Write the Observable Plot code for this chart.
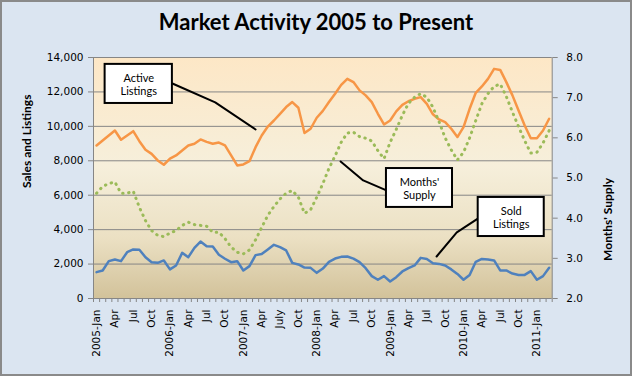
<!DOCTYPE html>
<html>
<head>
<meta charset="utf-8">
<script src="https://cdn.jsdelivr.net/npm/d3@7"></script>
<script src="https://cdn.jsdelivr.net/npm/@observablehq/plot@0.6"></script>
<style>
  html, body { margin: 0; padding: 0; background: #dbe5f1; }
  #wrap { position: relative; width: 632px; height: 376px; background: #dbe5f1; overflow: hidden; }
  #title { position: absolute; left: 0; top: 8px; width: 632px; text-align: center;
           font-family: Lato, "Open Sans", sans-serif; font-weight: bold; font-size: 22px; line-height: 28px; color: #000; }
  #border { position: absolute; left: 0; top: 0; width: 632px; height: 376px; box-sizing: border-box;
            border: 2px solid #8a8a8a; pointer-events: none; }
  #chart svg { position: absolute; left: 0; top: 0; }
</style>
</head>
<body>
<div id="wrap">
  <div id="chart"></div>
  <div id="title">Market Activity 2005 to Present</div>
  <div id="border"></div>
</div>
<script>
// ---- Data (monthly, 2005-Jan .. 2011-Mar) ----
const activeListings = [
  8890, 9180, 9470, 9760, 9220, 9470, 9720, 9140, 8640, 8400, 8020, 7770,
  8120, 8310, 8600, 8890, 8990, 9240, 9100, 8990, 9060, 8890, 8310, 7730,
  7790, 7980, 8790, 9470, 9990, 10340, 10730, 11120, 11410, 11080, 9610, 9860,
  10500, 10900, 11410, 11890, 12410, 12760, 12570, 12090, 11800, 11410, 10730, 10110,
  10340, 10870, 11250, 11460, 11600, 11700, 11310, 10700, 10400, 10250, 9860, 9380,
  9960, 11020, 11950, 12320, 12760, 13340, 13280, 12570, 11800, 10920, 10050, 9310,
  9310, 9760, 10440
];
const soldListings = [
  1530, 1630, 2170, 2270, 2170, 2690, 2850, 2830, 2400, 2110, 2070, 2210,
  1690, 1920, 2650, 2400, 2940, 3310, 3030, 3020, 2540, 2310, 2110, 2170,
  1630, 1880, 2520, 2580, 2850, 3120, 2980, 2790, 2070, 1980, 1800, 1780,
  1490, 1740, 2130, 2320, 2420, 2440, 2320, 2110, 1760, 1300, 1090, 1300,
  990, 1240, 1570, 1760, 1920, 2360, 2290, 2050, 2010, 1920, 1690, 1430,
  1090, 1370, 2130, 2300, 2270, 2210, 1630, 1630, 1450, 1370, 1370, 1590,
  1090, 1300, 1780
];
const monthsSupply = [
  4.62, 4.79, 4.86, 4.90, 4.62, 4.62, 4.67, 4.27, 3.94, 3.69, 3.57, 3.54,
  3.63, 3.69, 3.82, 3.90, 3.84, 3.82, 3.80, 3.65, 3.65, 3.49, 3.28, 3.15,
  3.11, 3.21, 3.46, 3.77, 4.07, 4.29, 4.48, 4.62, 4.69, 4.52, 4.12, 4.21,
  4.52, 4.86, 5.24, 5.55, 5.89, 6.12, 6.14, 6.03, 5.99, 5.92, 5.68, 5.48,
  5.89, 6.21, 6.56, 6.86, 7.01, 7.10, 7.01, 6.76, 6.40, 6.00, 5.70, 5.45,
  5.64, 6.00, 6.43, 6.85, 7.10, 7.28, 7.34, 7.03, 6.64, 6.28, 5.93, 5.62,
  5.64, 5.87, 6.18
];
const xTickLabels = [
  "2005-Jan", "Apr", "Jul", "Oct", "2006-Jan", "Apr", "Jul", "Oct",
  "2007-Jan", "Apr", "July", "Oct", "2008-Jan", "Apr", "Jul", "Oct",
  "2009-Jan", "Apr", "Jul", "Oct", "2010-Jan", "Apr", "Jul", "Oct", "2011-Jan"
];
const leftTicks = [0, 2000, 4000, 6000, 8000, 10000, 12000, 14000];
const rightTicks = [2.0, 3.0, 4.0, 5.0, 6.0, 7.0, 8.0];

// Callout annotations (x = month index, y = left-axis units)
const calloutNames = ["Active\nListings", "Months'\nSupply", "Sold\nListings"];
const calloutBoxX = [[1.4, 12.4], [47.4, 58.2], [62.4, 73.2]];
const calloutBoxY = [[11330, 13600], [5290, 7550], [3600, 5870]];
const calloutPathX = [[12.4, 19.4, 26.0], [39.9, 43.6, 47.4], [62.4, 58.9, 55.6]];
const calloutPathY = [[12490, 11390, 9820], [7960, 6860, 6280], [4650, 3840, 2440]];

// ---- Build ----
const leftMax = 14000, rMin = 2, rMax = 8;
const toLeft = v => (v - rMin) / (rMax - rMin) * leftMax;
const fromLeft = y => y / leftMax * (rMax - rMin) + rMin;
const nMonths = activeListings.length;
const rows = activeListings.map((a, i) => ({i, active: a, sold: soldListings[i], supply: toLeft(monthsSupply[i])}));
const labelPos = xTickLabels.map((_, k) => k * 3);
const boundaries = d3.range(nMonths + 1).map(k => k - 0.5);
const boxes = calloutNames.map((t, k) => ({
  t, x1: calloutBoxX[k][0], x2: calloutBoxX[k][1], y1: calloutBoxY[k][0], y2: calloutBoxY[k][1]
}));
const paths = calloutNames.flatMap((t, k) => calloutPathX[k].map((x, j) => ({k, x, y: calloutPathY[k][j]})));

const grid = "#868686";
const plot = Plot.plot({
  width: 632, height: 376,
  marginLeft: 93, marginRight: 80.3, marginTop: 57, marginBottom: 78,
  style: {background: "transparent", fontFamily: "'DejaVu Sans', sans-serif", fontSize: "10px", overflow: "visible"},
  x: {type: "linear", domain: [-0.5, nMonths - 0.5], axis: null},
  y: {domain: [0, leftMax], axis: null},
  marks: [
    Plot.frame({fill: "url(#plotBg)", stroke: "none"}),
    Plot.ruleY(leftTicks.filter(d => d > 0), {stroke: grid, strokeWidth: 1}),
    // left axis
    Plot.axisY({ticks: leftTicks, tickFormat: d3.format(","), tickSize: 5, tickPadding: 5,
      stroke: grid, fill: "black", fontSize: 10.5, label: null}),
    // right axis (months' supply)
    Plot.axisY({anchor: "right", ticks: rightTicks.map(toLeft), tickFormat: d => fromLeft(d).toFixed(1),
      tickSize: 5, tickPadding: 9, stroke: grid, fill: "black", fontSize: 10.5, label: null}),
    // x tick marks at category boundaries
    Plot.axisX({ticks: boundaries, tickFormat: () => "", tickSize: 4, stroke: grid, label: null}),
    // x labels
    Plot.text(labelPos, {x: d => d, text: d => xTickLabels[d / 3], frameAnchor: "bottom", rotate: -90,
      textAnchor: "end", lineAnchor: "middle", dy: 11, fontSize: 10.5, fill: "black"}),
    // axis lines
    Plot.ruleX([-0.5, nMonths - 0.5], {stroke: grid}),
    Plot.ruleY([0], {stroke: grid}),
    // series
    Plot.line(rows, {x: "i", y: "active", stroke: "#f79646", strokeWidth: 2.5}),
    Plot.line(rows, {x: "i", y: "supply", stroke: "#9bbb59", strokeWidth: 3,
      strokeDasharray: "0.5 5.6", strokeLinecap: "round"}),
    Plot.line(rows, {x: "i", y: "sold", stroke: "#4f81bd", strokeWidth: 2.5}),
    // callouts
    Plot.line(paths, {x: "x", y: "y", z: "k", stroke: "black", strokeWidth: 2}),
    Plot.rect(boxes, {x1: "x1", x2: "x2", y1: "y1", y2: "y2", fill: "white", stroke: "black", strokeWidth: 2}),
    Plot.text(boxes, {x: d => (d.x1 + d.x2) / 2, y: d => (d.y1 + d.y2) / 2, text: "t",
      fontFamily: "Lato, sans-serif", fontSize: 11, lineHeight: 1.2, fill: "black"}),
    // axis titles
    Plot.text([0], {frameAnchor: "left", text: () => "Sales and Listings", rotate: -90, dx: -66, dy: 10,
      fontFamily: "Lato, sans-serif", fontWeight: "bold", fontSize: 12, fill: "black"}),
    Plot.text([0], {frameAnchor: "right", text: () => "Months' Supply", rotate: -90, dx: 56, dy: 0,
      fontFamily: "Lato, sans-serif", fontWeight: "bold", fontSize: 12, fill: "black"})
  ]
});

const svg = plot.tagName.toLowerCase() === "svg" ? plot : plot.querySelector("svg");
const ns = "http://www.w3.org/2000/svg";
const defs = document.createElementNS(ns, "defs");
defs.innerHTML = '<linearGradient id="plotBg" x1="0" y1="0" x2="0" y2="1">' +
  '<stop offset="0" stop-color="#fde7c6"/><stop offset="0.45" stop-color="#f6efdb"/>' +
  '<stop offset="0.75" stop-color="#ebe0c3"/><stop offset="1" stop-color="#d2c29a"/></linearGradient>';
svg.insertBefore(defs, svg.firstChild);
document.getElementById("chart").appendChild(plot);
</script>
</body>
</html>
